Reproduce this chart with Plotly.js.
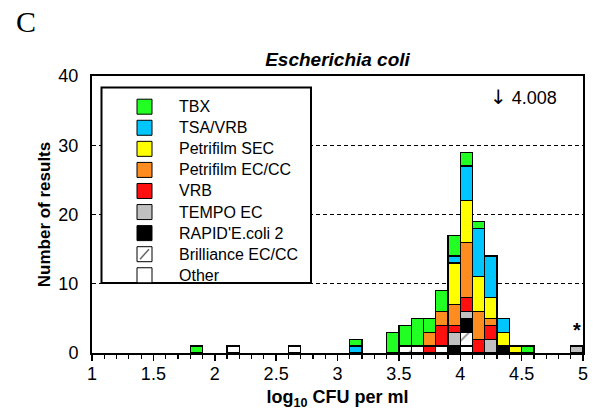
<!DOCTYPE html>
<html><head><meta charset="utf-8">
<script src="https://cdn.plot.ly/plotly-3.0.1.min.js"></script>
<style>html,body{margin:0;padding:0;background:#fff}#chart{width:594px;height:416px}</style>
</head><body><div id="chart"></div>
<script>
// bin centres (log10 CFU per ml), bin width 0.1
const binCenters = [1.85, 2.15, 2.65, 3.15, 3.45, 3.55, 3.65, 3.75, 3.85, 3.95, 4.05, 4.15, 4.25, 4.35, 4.45, 4.55, 4.95];
// counts per method (stack order bottom -> top)
const other      = [0, 1, 1, 0, 0, 0, 1, 0, 1, 0, 1, 0, 0, 0, 0, 0, 0];
const brilliance = [0, 0, 0, 0, 0, 1, 0, 0, 0, 0, 2, 0, 0, 0, 0, 0, 0];
const rapid      = [0, 0, 0, 0, 0, 0, 0, 0, 0, 1, 2, 0, 0, 1, 0, 0, 0];
const tempo      = [0, 0, 0, 0, 0, 0, 0, 0, 0, 2, 1, 0, 2, 0, 0, 0, 1];
const vrb        = [0, 0, 0, 0, 0, 0, 0, 1, 3, 1, 2, 2, 2, 0, 0, 0, 0];
const petriEC    = [0, 0, 0, 0, 0, 0, 0, 2, 2, 3, 8, 4, 1, 0, 0, 0, 0];
const petriSEC   = [0, 0, 0, 0, 0, 0, 0, 0, 0, 6, 6, 5, 3, 2, 1, 0, 0];
const tsaVrb     = [0, 0, 0, 1, 0, 0, 0, 0, 0, 1, 5, 7, 6, 2, 0, 0, 0];
const tbx        = [1, 0, 0, 1, 3, 3, 4, 2, 3, 3, 2, 1, 0, 0, 0, 1, 0];

const seriesNames  = ["Other", "Brilliance EC/CC", "RAPID'E.coli 2", "TEMPO EC", "VRB", "Petrifilm EC/CC", "Petrifilm SEC", "TSA/VRB", "TBX"];
const seriesValues = [other, brilliance, rapid, tempo, vrb, petriEC, petriSEC, tsaVrb, tbx];
const seriesColors = ["#ffffff", "#ffffff", "#000000", "#c0c0c0", "#ff1010", "#ff8c1e", "#ffff00", "#00c6ff", "#22ff22"];
const hatched = "Brilliance EC/CC";

const xTickVals = [1, 1.5, 2, 2.5, 3, 3.5, 4, 4.5, 5];
const yTickVals = [0, 10, 20, 30, 40];

const FONT = "Liberation Sans, Arial, sans-serif";
const W = 594, H = 416, ML = 92, MR = 11, MT = 76, MB = 63;
const PW = W - ML - MR, PH = H - MT - MB;
const px = x => (x - ML) / PW;
const py = y => (H - MB - y) / PH;

const traces = seriesNames.map((n, i) => {
  const marker = {color: seriesColors[i], line: {color: "#000", width: 1.3}};
  if (n === hatched) marker.pattern = {shape: "/", fgcolor: "#777", bgcolor: "#fff", size: 14, solidity: 0.1, fillmode: "replace"};
  return {
    type: "bar", name: n, x: binCenters, y: seriesValues[i].map(v => v || null),
    width: 0.1, marker: marker, showlegend: false, hoverinfo: "skip"
  };
});

// custom legend (top entry = last stacked series)
const shapes = [{type: "rect", xref: "paper", yref: "paper", x0: px(101.5), x1: px(311), y0: py(283), y1: py(87.5),
  fillcolor: "#fff", line: {color: "#000", width: 2}, layer: "above"}];
const annotations = [];
const legendOrder = seriesNames.slice().reverse();
legendOrder.forEach((n, k) => {
  const i = seriesNames.indexOf(n);
  const cy = 106.7 + k * 21.07;
  shapes.push({type: "rect", xref: "paper", yref: "paper", x0: px(137), x1: px(152), y0: py(cy + 7.5), y1: py(cy - 7.5),
    fillcolor: seriesColors[i], line: {color: "#000", width: 1}, layer: "above"});
  if (n === hatched) {
    shapes.push({type: "line", xref: "paper", yref: "paper", x0: px(140), x1: px(149), y0: py(cy + 5), y1: py(cy - 5),
      line: {color: "#666", width: 1.5}, layer: "above"});
  }
  annotations.push({xref: "paper", yref: "paper", x: px(177), y: py(cy), xanchor: "left", yanchor: "middle",
    text: n, showarrow: false, font: {family: FONT, size: 16, color: "#000"}});
});

annotations.push({xref: "x", yref: "y", x: 4.23, y: 36.9, xanchor: "left", yanchor: "middle",
  text: "<span style=\"font-family:DejaVu Sans;font-size:20px\">\u2193</span> 4.008", showarrow: false,
  font: {family: FONT, size: 18, color: "#000"}});
annotations.push({xref: "x", yref: "y", x: 4.95, y: 3.3, xanchor: "center", yanchor: "middle",
  text: "<b>*</b>", showarrow: false, font: {family: FONT, size: 20, color: "#000"}});
annotations.push({xref: "paper", yref: "paper", x: px(26), y: py(21), xanchor: "center", yanchor: "middle",
  text: "C", showarrow: false, font: {family: "Liberation Serif, Times New Roman, serif", size: 30, color: "#000"}});

const layout = {
  width: W, height: H,
  margin: {l: ML, r: MR, t: MT, b: MB, pad: 0},
  paper_bgcolor: "#fff", plot_bgcolor: "#fff",
  barmode: "stack", bargap: 0,
  showlegend: false,
  title: {text: "<b><i>Escherichia coli</i></b>", x: 0.5, xref: "paper", y: 1 - 59 / H, yref: "container", yanchor: "middle",
    font: {family: FONT, size: 19, color: "#000"}},
  xaxis: {
    range: [1, 5], tickvals: xTickVals, ticktext: xTickVals.map(String),
    ticks: "outside", ticklen: 6, tickwidth: 1.5, tickcolor: "#000", ticklabelstandoff: -3,
    minor: {dtick: 0.1, tick0: 1, ticks: "outside", ticklen: 3.5, tickwidth: 1.2, tickcolor: "#000", showgrid: false},
    showline: true, linewidth: 2, linecolor: "#000", mirror: true,
    showgrid: false, zeroline: false,
    tickfont: {family: FONT, size: 18, color: "#000"},
    title: {text: "<b>log<sub>10</sub> CFU per ml</b>", standoff: 8, font: {family: FONT, size: 18, color: "#000"}}
  },
  yaxis: {
    range: [0, 40], tickvals: yTickVals, ticktext: yTickVals.map(String),
    ticks: "", ticklabelstandoff: 8,
    showline: true, linewidth: 2, linecolor: "#000", mirror: true,
    showgrid: true, gridcolor: "#000", gridwidth: 1, griddash: "4px,3px", zeroline: false,
    tickfont: {family: FONT, size: 18, color: "#000"},
    title: {text: "<b>Number of results</b>", standoff: 3, font: {family: FONT, size: 17, color: "#000"}}
  },
  shapes: shapes,
  annotations: annotations
};

Plotly.newPlot("chart", traces, layout, {staticPlot: true, displayModeBar: false});
</script>
</body></html>
